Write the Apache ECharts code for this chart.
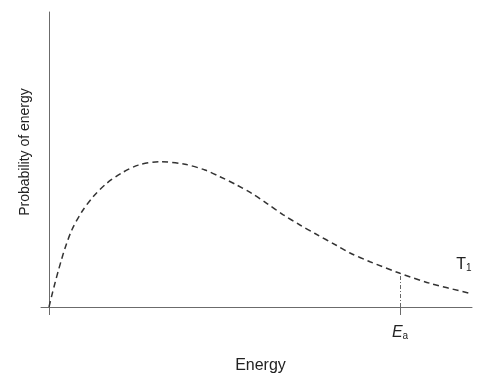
<!DOCTYPE html>
<html>
<head>
<meta charset="utf-8">
<script src="https://cdn.jsdelivr.net/npm/echarts@6/dist/echarts.min.js"></script>
<style>html,body{margin:0;padding:0;background:#fff}#c{width:486px;height:385px}</style>
</head>
<body>
<div id="c"></div>
<script>
// Energy (arbitrary units) and probability (arbitrary units)
const energy = [0, 2.7, 6, 9.3, 12.7, 16, 22.7, 32.7, 44.3, 57.7, 72.7, 89.3, 111, 136, 156, 171, 187.7, 202.7, 217.7, 234.3, 251, 266, 287.7, 301, 321, 351, 381, 421];
const probability = [0, 11.1, 24, 36.2, 48.1, 58.7, 76.8, 95, 110.5, 123.7, 134, 141.9, 145.3, 142.7, 137, 130.3, 122, 113.7, 103.7, 92.2, 82, 73.5, 61.5, 54, 45.3, 33.7, 23.7, 13.7];
const activationEnergy = 351;
const probAtEa = 33.7;
const tickValues = [0, 351];
const curveLabelPos = [415, 42];

const chart = echarts.init(document.getElementById('c'), null, {renderer: 'canvas'});
const font = 'Liberation Sans, Arial, Helvetica, sans-serif';
chart.setOption({
  animation: false,
  grid: {left: 41, right: 14, top: 12, bottom: 78},
  xAxis: {
    type: 'value', min: -8, max: 423,
    name: 'Energy', nameLocation: 'middle', nameGap: 51,
    nameTextStyle: {fontFamily: font, fontSize: 16, color: '#222', padding: [0, 0, 0, 8]},
    axisLine: {lineStyle: {color: '#6b6b6b', width: 1}},
    axisTick: {show: true, customValues: tickValues, length: 8, lineStyle: {color: '#6b6b6b'}},
    axisLabel: {
      show: true, customValues: [activationEnergy], margin: 18,
      formatter: () => '{e|E}{s|a}',
      rich: {
        e: {fontFamily: font, fontSize: 16, fontStyle: 'italic', color: '#222', lineHeight: 16, verticalAlign: 'top'},
        s: {fontFamily: font, fontSize: 10, color: '#222', lineHeight: 8, verticalAlign: 'bottom'}
      }
    },
    splitLine: {show: false}
  },
  yAxis: {
    type: 'value', min: 0, max: 295,
    name: 'Probability of energy', nameLocation: 'middle', nameGap: 9,
    nameTextStyle: {fontFamily: font, fontSize: 14, color: '#222', padding: [0, 0, 0, 15]},
    axisLine: {show: true, onZero: true, lineStyle: {color: '#6b6b6b', width: 1}},
    axisTick: {show: false},
    axisLabel: {show: false},
    splitLine: {show: false}
  },
  series: [{
    type: 'line',
    data: energy.map((e, i) => [e, probability[i]]),
    smooth: 0.3,
    symbol: 'none',
    lineStyle: {color: '#333', width: 1.5, type: [6, 4]},
    markLine: {
      silent: true, symbol: 'none', label: {show: false},
      lineStyle: {color: '#666', width: 1, type: [4, 2, 1, 2]},
      data: [[{coord: [activationEnergy, 0]}, {coord: [activationEnergy, probAtEa]}]]
    },
    markPoint: {
      symbol: 'circle', symbolSize: 0,
      label: {
        show: true, position: 'inside',
        formatter: () => '{t|T}{s|1}',
        rich: {
          t: {fontFamily: font, fontSize: 16, color: '#222', lineHeight: 16, verticalAlign: 'top'},
          s: {fontFamily: font, fontSize: 10, color: '#222', lineHeight: 8, verticalAlign: 'bottom'}
        }
      },
      data: [{coord: curveLabelPos}]
    }
  }]
});
</script>
</body>
</html>
